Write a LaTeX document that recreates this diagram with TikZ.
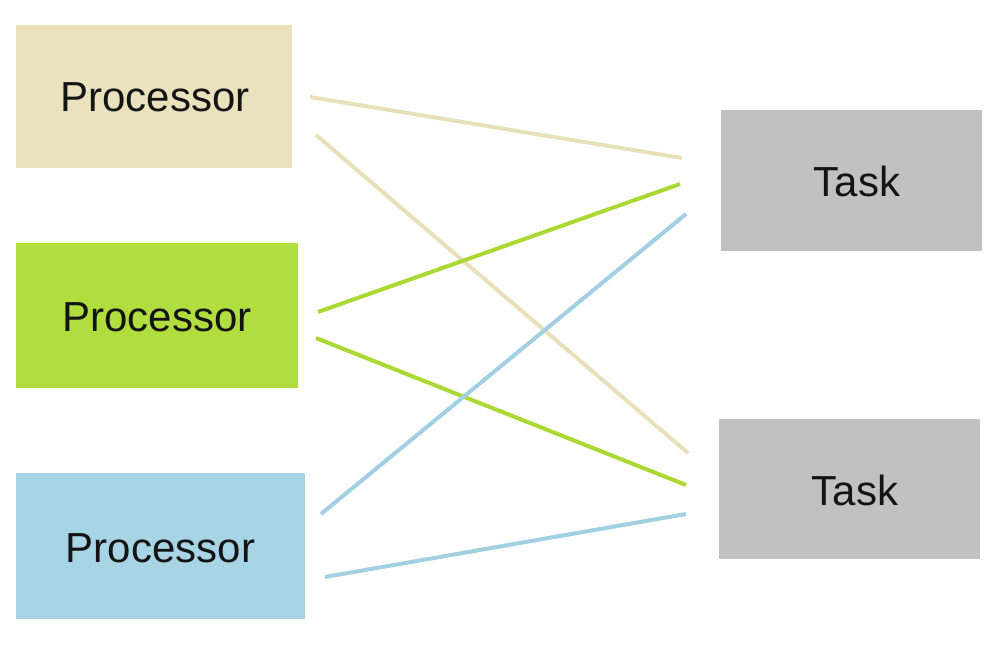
\documentclass[tikz,border=0pt]{standalone}
\usepackage{fontspec}
\setmainfont{Liberation Sans}
\definecolor{beigebox}{RGB}{234,225,189}
\definecolor{greenbox}{RGB}{178,221,62}
\definecolor{bluebox}{RGB}{168,213,230}
\definecolor{graybox}{RGB}{193,193,193}
\definecolor{beigeline}{RGB}{232,224,184}
\definecolor{greenline}{RGB}{172,216,52}
\definecolor{blueline}{RGB}{160,208,226}
\begin{document}
\begin{tikzpicture}[x=1pt,y=-1pt,
  box/.style={draw=none,minimum width=#1,inner sep=0pt,font=\fontsize{42}{50}\selectfont,text=black!92},
  link/.style={line width=4pt}]
\useasboundingbox[fill=white] (0,0) rectangle (1005,650);
\fill[beigebox] (16,25) rectangle (292,168);
\node (p1) at (155,97) [box=276pt] {Processor};
\fill[greenbox] (16,243) rectangle (298,388);
\node (p2) at (157,317) [box=282pt] {Processor};
\fill[bluebox] (16,473) rectangle (305,619);
\node (p3) at (160.5,548) [box=289pt] {Processor};
\fill[graybox] (721,110) rectangle (982,251);
\node (t1) at (857,181) [box=261pt] {Task};
\fill[graybox] (719,419) rectangle (980,559);
\node (t2) at (855,490) [box=261pt] {Task};
\coordinate (a1) at (310,97);
\coordinate (a2) at (682,158);
\coordinate (b1) at (316,135);
\coordinate (b2) at (688,453);
\coordinate (c1) at (318,312);
\coordinate (c2) at (680,184);
\coordinate (d1) at (316,338);
\coordinate (d2) at (686,485);
\coordinate (e1) at (321,514);
\coordinate (e2) at (686,214);
\coordinate (f1) at (325,577);
\coordinate (f2) at (686,514);
\draw[link,beigeline] (a1) -- (a2);
\draw[link,beigeline] (b1) -- (b2);
\draw[link,greenline] (c1) -- (c2);
\draw[link,greenline] (d1) -- (d2);
\draw[link,blueline] (e1) -- (e2);
\draw[link,blueline] (f1) -- (f2);
\end{tikzpicture}
\end{document}
